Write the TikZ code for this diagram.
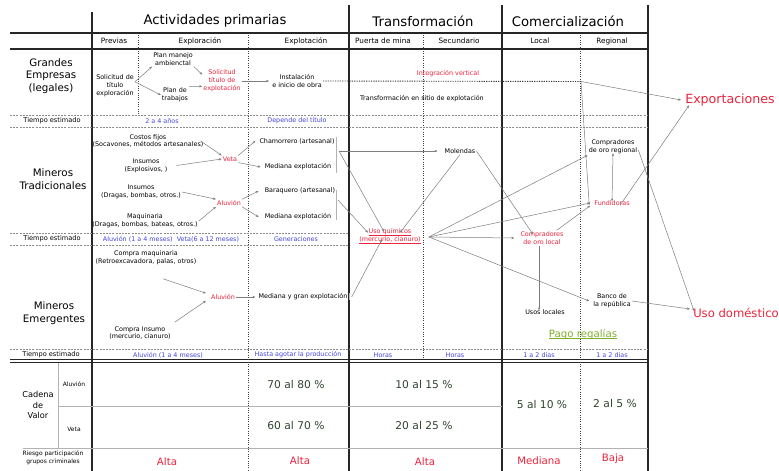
\documentclass[tikz,border=0pt]{standalone}
\usepackage{fontspec}
\setmainfont{DejaVu Sans}
\usetikzlibrary{arrows.meta,calc}
\definecolor{myred}{RGB}{235,35,60}
\definecolor{myblue}{RGB}{70,70,225}
\definecolor{mygreen}{RGB}{125,175,45}
\definecolor{valc}{RGB}{45,70,45}
\definecolor{arr}{RGB}{125,125,125}
\newcommand\ulx[2][1.3pt]{\setbox0\hbox{#2}\rlap{\rule[-#1]{\wd0}{0.4pt}}\box0}
\tikzset{
  thickline/.style={line width=1.3pt, black!85},
  dotv/.style={line width=0.9pt, dash pattern=on 0.7pt off 1.6pt, black!75},
  dashh/.style={line width=0.6pt, dash pattern=on 2pt off 1.2pt, black!45},
  grayline/.style={line width=0.6pt, black!30},
  bighead/.style={font=\fontsize{13.2}{15}\selectfont, inner sep=1pt},
  subhead/.style={font=\fontsize{7.3}{9}\selectfont, inner sep=1pt},
  sm/.style={font=\fontsize{6.4}{7.9}\selectfont, align=center, inner sep=1pt},
  rowlab/.style={font=\fontsize{10.3}{12.4}\selectfont, align=center, inner sep=1pt},
  tiempo/.style={font=\fontsize{6.6}{8}\selectfont, inner sep=1pt},
  blu/.style={sm, text=myblue},
  rsm/.style={sm, text=myred},
  arrow/.style={draw=arr, line width=0.5pt, -{Stealth[length=3pt,width=2.4pt]}},
  valtext/.style={font=\fontsize{10.7}{12}\selectfont, text=valc, inner sep=1pt},
  risk/.style={font=\fontsize{10.2}{12}\selectfont, text=myred, inner sep=1pt},
  tiny/.style={font=\fontsize{6}{7.7}\selectfont, align=center, inner sep=1pt},
  outlab/.style={text=myred, inner sep=1pt},
}
\begin{document}
\begin{tikzpicture}[x=1pt,y=-1pt]
\useasboundingbox (0,0) rectangle (779,471);
\fill[white] (0,0) rectangle (779,471);

% ---------- grid ----------
\draw[thickline] (10,33) -- (648,33);
\draw[thickline] (10,49) -- (648,49);
\draw[thickline] (92,12) -- (92,471);
\draw[thickline] (349,5) -- (349,471);
\draw[thickline] (502,5) -- (502,471);
\draw[thickline] (648,5) -- (648,471);
\draw[line width=0.9pt, black!85] (10,359.5) -- (648,359.5);
\draw[line width=0.9pt, black!85] (10,362.8) -- (648,362.8);

\draw[dotv] (138,35) -- (138,114);
\draw[dotv] (248,35) -- (248,471);
\draw[dotv] (423,35) -- (423,358);
\draw[dotv] (580,35) -- (580,471);

\draw[dashh] (10,115) -- (648,115);
\draw[dashh] (10,127) -- (648,127);
\draw[dashh] (10,233) -- (349,233);
\draw[dashh] (10,245) -- (349,245);
\draw[dashh] (10,349) -- (648,349);

\draw[grayline] (58,363) -- (58,448);
\draw[grayline] (58,406) -- (502,406);
\draw[grayline] (23,448) -- (648,448);

% ---------- headers ----------
\node[bighead] (hap) at (215,21) {Actividades primarias};
\node[bighead] (htr) at (423,21) {Transformación};
\node[bighead] (hco) at (568,21) {Comercialización};

\node[subhead] (sprev) at (114,41) {Previas};
\node[subhead] (sexplor) at (200,41) {Exploración};
\node[subhead] (sexplot) at (306,41) {Explotación};
\node[subhead] (spuerta) at (383,41) {Puerta de mina};
\node[subhead] (ssec) at (459,41) {Secundario};
\node[subhead] (sloc) at (540,41) {Local};
\node[subhead] (sreg) at (612,41) {Regional};

% ---------- row labels ----------
\node[rowlab] (lge) at (51,76) {Grandes\\Empresas\\(legales)};
\node[rowlab] (lmt) at (53,179) {Mineros\\Tradicionales};
\node[rowlab] (lme) at (54,313) {Mineros\\Emergentes};
\node[tiempo] (te1) at (52,121) {Tiempo estimado};
\node[tiempo] (te2) at (52,239) {Tiempo estimado};
\node[tiempo] (te3) at (51,354.5) {Tiempo estimado};
\node[font=\fontsize{8.2}{10.8}\selectfont, align=center, inner sep=1pt] (lcv) at (38,405) {Cadena\\de\\Valor};
\node[tiny] (lal) at (74,384) {Aluvión};
\node[tiny] (lve) at (74,429) {Veta};
\node[tiny] (lrg) at (53,458) {Riesgo participación\\grupos criminales};

% ---------- Grandes empresas ----------
\node[sm] (sol) at (115,86) {Solicitud de\\título\\exploración};
\node[sm] (pma) at (173,59) {Plan manejo\\ambienctal};
\node[sm] (pdt) at (175,95) {Plan de\\trabajos};
\node[rsm] (ste) at (222,81) {Solicitud\\título de\\explotación};
\node[sm] (ins) at (297,81) {Instalación\\e inicio de obra};
\node[rsm] (ivert) at (448,74) {Integración vertical};
\node[sm] (tse) at (422,99) {Transformación en sitio de explotación};
\coordinate (ivc) at (581,81.5);

\draw[arrow] (sol.12) -- (pma.south west);
\draw[arrow] (sol.12) -- (pdt.west);
\draw[arrow] (pma.south east) -- (ste.162);
\draw[arrow] (pdt.north east) -- (ste.195);
\draw[arrow] (ste.east) -- ([xshift=-2pt]ins.west);
\draw[line width=0.9pt, black!80, dash pattern=on 1.2pt off 1.2pt] (ins.east) -- (ivc);

\node[blu] (t1a) at (162,121) {2 a 4 años};
\node[blu] (t1b) at (297,121) {Depende del título};

% ---------- Mineros tradicionales ----------
\node[sm] (cf) at (148,141) {Costos fijos\\(Socavones, métodos artesanales)};
\node[sm] (ie) at (146,165.5) {Insumos\\(Explosivos, )};
\node[rsm] (veta) at (230,159) {Veta};
\node[sm] (cham) at (297,141) {Chamorrero (artesanal)};
\node[sm] (med1) at (298,167) {Mediana explotación};
\node[sm] (idr) at (141,192) {Insumos\\(Dragas, bombas, otros.)};
\node[sm] (maq) at (145,221) {Maquinaria\\(Dragas, bombas, bateas, otros.)};
\node[rsm] (alu1) at (229,203) {Aluvión};
\node[sm] (bar) at (300,191) {Baraquero (artesanal)};
\node[sm] (med2) at (298,217) {Mediana explotación};
\draw[grayline] (336,137) -- (336,173);
\draw[grayline] (336,190) -- (336,220);
\coordinate (br1) at (339,151);
\coordinate (br2) at (338,200);

\draw[arrow] ([xshift=-4pt]cf.east) -- (veta.north west);
\draw[arrow] ([xshift=8pt]ie.east) -- (veta.west);
\draw[arrow] (veta.north east) -- ([xshift=-3pt]cham.west);
\draw[arrow] (veta.south east) -- ([xshift=-3pt]med1.west);
\draw[arrow] (idr.east) -- (alu1.north west);
\draw[arrow] (maq.east) -- (alu1.south west);
\draw[arrow] (alu1.north east) -- ([xshift=-5pt]bar.west);
\draw[arrow] (alu1.south east) -- ([xshift=-5pt]med2.west);

\node[blu] (t2a) at (171,239) {Aluvión (1 a 4 meses)\ \ Veta(6 a 12 meses)};
\node[blu] (t2b) at (296,239) {Generaciones};

% ---------- Transformación / Comercialización ----------
\node[sm] (mol) at (460,151) {Molendas};
\node[rsm] (uq) at (390,236) {\ulx{Uso químicos}\\\ulx{(mercurio, cianuro)}};
\coordinate (uqo) at ($(uq.east)+(7,1)$);
\node[rsm] (cdl) at (542,238) {Compradores\\de oro local};
\node[sm] (cdr) at (613,147) {Compradores\\de oro regional};
\node[rsm] (fund) at (612,203) {Fundidoras};
\node[sm] (usos) at (545,312) {Usos locales};
\node[sm] (banco) at (612,301) {Banco de\\la república};
\node[outlab, font=\fontsize{12.6}{15}\selectfont] (expo) at (730,100) {Exportaciones};
\node[outlab, font=\fontsize{11.6}{14}\selectfont] (udom) at (736,313) {Uso doméstico};
\node[text=mygreen, font=\fontsize{10.2}{12}\selectfont, inner sep=1pt] (pago) at (583,334) {\ulx[1.6pt]{Pago regalías}};

\draw[arrow] (br1) -- ([xshift=-6pt]mol.west);
\draw[arrow] (br1) -- ([xshift=-6pt,yshift=-4pt]uq.north);
\draw[arrow] (br2) -- ([xshift=-22pt,yshift=-5pt]uq.north);
\draw[arrow] (mol.south) -- ([xshift=10pt,yshift=-5pt]uq.north);
\draw[arrow] (mol.east) -- ([xshift=-9pt,yshift=-4pt]cdl.north);

\draw[arrow] (uqo) -- (cdr.south west);
\draw[arrow] (uqo) -- ([xshift=-3pt]fund.west);
\draw[arrow] (uqo) -- ([xshift=-5pt]cdl.west);
\draw[arrow] (uqo) -- ([xshift=-3pt]banco.west);

\draw[arrow] ([xshift=-8pt]cdl.north east) -- ([xshift=-3pt,yshift=1pt]fund.south west);
\draw[arrow] ([xshift=-3pt]cdl.south) -- ([xshift=-3pt,yshift=-2pt]cdl.south |- usos.north);
\draw[arrow] (ivc) -- ([xshift=-4pt,yshift=-2pt]fund.west);
\draw[arrow] (ivc) -- ([xshift=-3pt]expo.west);
\draw[arrow] ([xshift=8pt,yshift=-6pt]fund.north) -- ([xshift=5pt,yshift=2pt]expo.south west);
\draw[arrow, {Stealth[length=3pt,width=2.4pt]}-{Stealth[length=3pt,width=2.4pt]}] ([yshift=2pt]cdr.south) -- ([yshift=-2pt]fund.north);
\draw[arrow] ([yshift=-3pt]cdr.east) -- ([xshift=2pt,yshift=-4pt]udom.north west);
\draw[arrow] (banco.east) -- ([xshift=-2pt,yshift=4pt]udom.west);

% ---------- Mineros emergentes ----------
\node[sm] (cm) at (146,257.5) {Compra maquinaria\\(Retroexcavadora, palas, otros)};
\node[rsm] (alu2) at (223,297) {Aluvión};
\node[sm] (mg) at (303,297) {Mediana y gran explotación};
\node[sm] (ci) at (140,333) {Compra Insumo\\(mercurio, cianuro)};
\draw[arrow] ($(cm.south)+(17,13)$) -- ([xshift=-4pt]alu2.north west);
\draw[arrow] ($(ci.north)+(35,-3)$) -- ([xshift=-4pt]alu2.south west);
\draw[arrow] (alu2.east) -- ([xshift=-2pt]mg.west);
\draw[grayline] (349.5,293) -- (349.5,300);
\draw[arrow] ([xshift=3pt]mg.east) -- ([xshift=-8pt,yshift=5pt]uq.south);

\node[blu] (t3a) at (168,355) {Aluvión (1 a 4 meses)};
\node[blu] (t3b) at (298,355) {Hasta agotar la producción};
\node[blu] (t3c) at (383,355) {Horas};
\node[blu] (t3d) at (455,355) {Horas};
\node[blu] (t3e) at (539,355) {1 a 2 días};
\node[blu] (t3f) at (612,355) {1 a 2 días};

% ---------- Cadena de valor ----------
\node[valtext] (v1) at (296,385) {70 al 80 \%};
\node[valtext] (v2) at (296,426) {60 al 70 \%};
\node[valtext] (v3) at (424,385) {10 al 15 \%};
\node[valtext] (v4) at (424,426) {20 al 25 \%};
\node[valtext] (v5) at (542,405) {5 al 10 \%};
\node[valtext] (v6) at (615,404) {2 al 5 \%};

\node[risk] (r1) at (167,462) {Alta};
\node[risk] (r2) at (300,461) {Alta};
\node[risk] (r3) at (425,462) {Alta};
\node[risk] (r4) at (539,461) {Mediana};
\node[risk] (r5) at (613,459) {Baja};
\end{tikzpicture}
\end{document}
